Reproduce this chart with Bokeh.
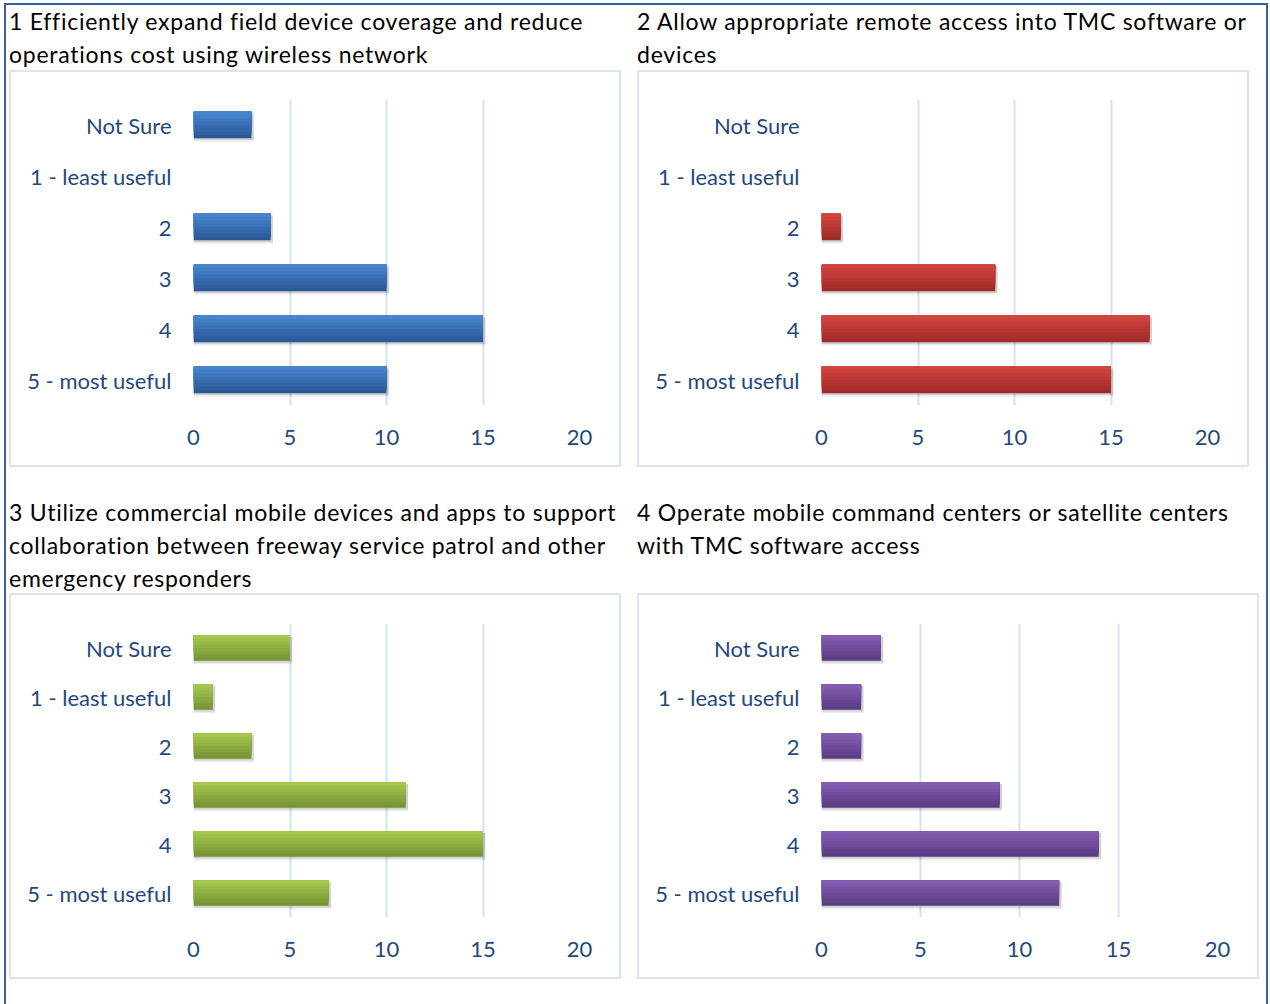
from bokeh.plotting import figure
from bokeh.models import Div, Range1d, FactorRange, FixedTicker, ColumnDataSource
from bokeh.layouts import column, row
from bokeh.transform import dodge
from bokeh.embed import file_html
from bokeh.resources import INLINE

# Survey answer scale (top to bottom as listed)
categories = ["Not Sure", "1 - least useful", "2", "3", "4", "5 - most useful"]
x_ticks = [0, 5, 10, 15, 20]

# Number of responses per question
q1_counts = [3, 0, 4, 10, 15, 10]
q2_counts = [0, 0, 1, 9, 17, 15]
q3_counts = [5, 1, 3, 11, 15, 7]
q4_counts = [3, 2, 2, 9, 14, 12]

q1_title = ["1 Efficiently expand field device coverage and reduce",
            "operations cost using wireless network"]
q2_title = ["2 Allow appropriate remote access into TMC software or",
            "devices"]
q3_title = ["3 Utilize commercial mobile devices and apps to support",
            "collaboration between freeway service patrol and other",
            "emergency responders"]
q4_title = ["4 Operate mobile command centers or satellite centers",
            "with TMC software access"]

LABEL_COLOR = "#1F497D"
GRID_COLOR = "#D5E1F1"
FRAME_COLOR = "#DAE5F3"
PAGE_BORDER = "#3A6298"
FONT = "Lato"

BAR_H = 0.52
N_LAYERS = 8


def hex_to_rgb(h):
    h = h.lstrip("#")
    return tuple(int(h[i:i + 2], 16) for i in (0, 2, 4))


def mix(c1, c2, t):
    a, b = hex_to_rgb(c1), hex_to_rgb(c2)
    return "#%02x%02x%02x" % tuple(round(a[i] + (b[i] - a[i]) * t) for i in range(3))


def make_title(lines, w, h, pad_top):
    html = ("<div style=\"font-family:'%s'; font-size:23px; letter-spacing:0.75px; "
            "line-height:33px; color:#000000; white-space:nowrap; "
            "font-variant-ligatures:none; padding-top:%dpx;\">%s</div>"
            % (FONT, pad_top, "<br>".join(lines)))
    return Div(text=html, width=w, height=h, margin=(0, 0, 0, 0))


def make_chart(counts, top_color, bottom_color, w, h, border_top):
    shadow_right = [v + 0.12 if v > 0 else 0 for v in counts]
    src = ColumnDataSource(dict(cat=categories, val=counts, shadow=shadow_right))

    p = figure(width=w, height=h,
               y_range=FactorRange(*categories[::-1]),
               x_range=Range1d(0, 20),
               output_backend="svg", toolbar_location=None,
               min_border_left=182, min_border_right=40,
               min_border_top=border_top, min_border_bottom=60,
               outline_line_color=None,
               background_fill_color="white", border_fill_color="white",
               margin=(0, 0, 0, 0))

    # soft drop shadow under each bar
    p.hbar(y=dodge("cat", -0.05, range=p.y_range), left=0, right="shadow",
           height=BAR_H + 0.04, source=src, fill_color="#000000",
           fill_alpha=0.07, line_color=None)
    p.hbar(y=dodge("cat", -0.035, range=p.y_range), left=0, right="shadow",
           height=BAR_H, source=src, fill_color="#000000",
           fill_alpha=0.12, line_color=None)

    # bars shaded from light (top) to dark (bottom)
    top_edge = BAR_H / 2
    for k in range(N_LAYERS):
        span = BAR_H * (N_LAYERS - k) / N_LAYERS
        centre = top_edge - span / 2
        t = (N_LAYERS - 1 - k) / (N_LAYERS - 1)
        p.hbar(y=dodge("cat", centre, range=p.y_range), left=0, right="val",
               height=span, source=src, fill_color=mix(top_color, bottom_color, t),
               line_color=None)

    p.xaxis.ticker = FixedTicker(ticks=x_ticks)
    for ax in (p.xaxis, p.yaxis):
        ax.axis_line_color = None
        ax.major_tick_line_color = None
        ax.minor_tick_line_color = None
        ax.major_tick_out = 0
        ax.major_tick_in = 0
        ax.major_label_text_font = FONT
        ax.major_label_text_font_size = "22px"
        ax.major_label_text_color = LABEL_COLOR
    p.xaxis.major_label_standoff = 24
    p.yaxis.major_label_standoff = 22

    p.xgrid.ticker = FixedTicker(ticks=x_ticks)
    p.xgrid.grid_line_color = GRID_COLOR
    p.xgrid.grid_line_width = 2
    p.ygrid.visible = False

    # light frame around the whole chart box
    return column(p, margin=(0, 0, 0, 0),
                  styles={"border": "2px solid " + FRAME_COLOR})


chart1 = make_chart(q1_counts, "#4784CE", "#2B5997", 608, 393, 27)
chart2 = make_chart(q2_counts, "#D3433E", "#9E2B28", 608, 393, 27)
chart3 = make_chart(q3_counts, "#A4C74C", "#779535", 608, 382, 28)
chart4 = make_chart(q4_counts, "#845CB1", "#5B3D83", 618, 382, 28)

col1 = column(make_title(q1_title, 612, 65, 0), chart1, margin=(0, 0, 0, 3))
col2 = column(make_title(q2_title, 612, 65, 0), chart2, margin=(0, 17, 0, 16))
col3 = column(make_title(q3_title, 612, 126, 29), chart3, margin=(0, 0, 25, 3))
col4 = column(make_title(q4_title, 622, 126, 29), chart4, margin=(0, 7, 25, 16))

root = column(row(col1, col2, margin=(0, 0, 0, 0)),
              row(col3, col4, margin=(0, 0, 0, 0)),
              margin=(3, 0, 0, 4),
              styles={"border-top": "2px solid " + PAGE_BORDER,
                      "border-left": "2px solid " + PAGE_BORDER,
                      "border-right": "2px solid " + PAGE_BORDER})

open("out.html", "w").write(file_html(root, INLINE))
